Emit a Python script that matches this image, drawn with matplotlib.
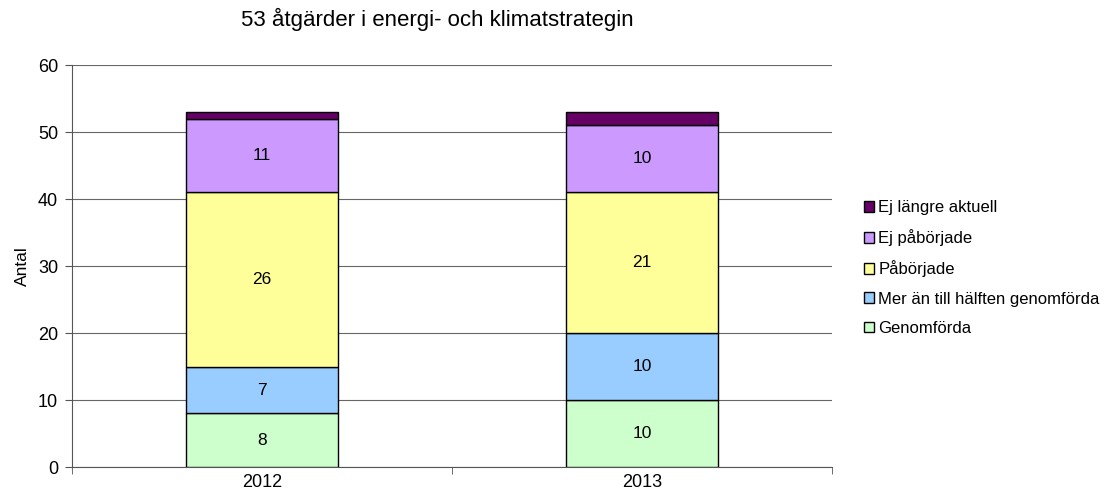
import matplotlib
matplotlib.use("Agg")
import matplotlib.pyplot as plt
from matplotlib.patches import Patch

plt.rcParams['font.family'] = ['Liberation Sans', 'DejaVu Sans']

years = ["2012", "2013"]
series_names = ["Genomförda", "Mer än till hälften genomförda", "Påbörjade",
                "Ej påbörjade", "Ej längre aktuell"]
genomforda = [8, 10]
mer_an_halften = [7, 10]
paborjade = [26, 21]
ej_paborjade = [11, 10]
ej_langre = [1, 2]
series = [genomforda, mer_an_halften, paborjade, ej_paborjade, ej_langre]
colors = ["#CCFFCC", "#99CCFF", "#FFFF99", "#CC99FF", "#660066"]
show_label = [True, True, True, True, False]

fig = plt.figure(figsize=(11.07, 4.99), dpi=100)
ax = fig.add_axes([0.065, 0.064, 0.6866, 0.8056])

x = list(range(len(years)))
bottom = [0] * len(years)
for vals, col, name, lab in zip(series, colors, series_names, show_label):
    ax.bar(x, vals, width=0.4, bottom=bottom, color=col, edgecolor='black',
           linewidth=1.0, label=name, zorder=3)
    if lab:
        for xi, v, b in zip(x, vals, bottom):
            ax.text(xi, b + v / 2, str(v), ha='center', va='center', fontsize=12.5, zorder=4)
    bottom = [b + v for b, v in zip(bottom, vals)]

ax.set_xlim(-0.5, 1.5)
ax.set_ylim(0, 60)
ax.set_yticks(range(0, 61, 10))
ax.set_xticks(x)
ax.set_xticklabels(years)
ax.set_xticks([-0.5, 0.5, 1.5], minor=True)
ax.tick_params(axis='x', which='major', length=0, labelsize=13, pad=5)
ax.tick_params(axis='x', which='minor', length=5, direction='out', color='#555555')
ax.tick_params(axis='y', length=5, direction='out', labelsize=13, color='#555555', pad=5)
ax.yaxis.grid(True, color='#666666', linewidth=0.8, zorder=0)
ax.set_axisbelow(True)
for s in ['top', 'right']:
    ax.spines[s].set_visible(False)
for s in ['left', 'bottom']:
    ax.spines[s].set_color('#555555')
ax.set_ylabel("Antal", fontsize=12.5, labelpad=6)
fig.text(0.395, 0.962, "53 åtgärder i energi- och klimatstrategin", ha='center', va='center', fontsize=16)

handles = [Patch(facecolor=c, edgecolor='black', label=n) for c, n in zip(colors, series_names)]
fig.legend(handles[::-1], series_names[::-1], loc='center left', bbox_to_anchor=(0.767, 0.463),
           frameon=False, fontsize=12, handlelength=0.6, handleheight=0.6,
           handletextpad=0.25, labelspacing=0.85)

fig.savefig("out.png", dpi=100)
